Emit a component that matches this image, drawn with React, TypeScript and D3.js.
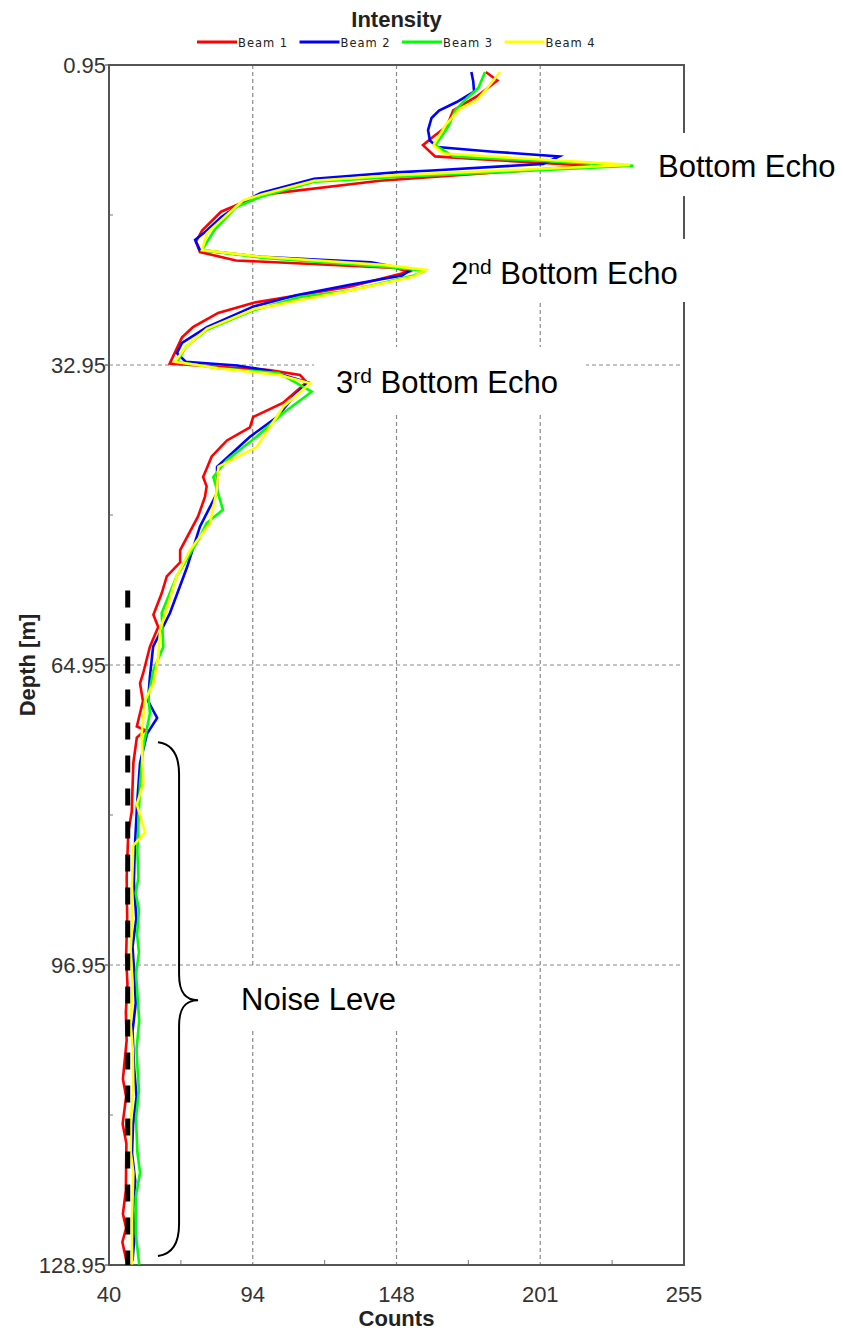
import React, { useEffect, useRef } from "react";
import * as d3 from "d3";

// beam profiles: [depth m, counts]
const beam1: [number, number][] = [
  [1.7, 180.9], [2.6, 185.2], [4.3, 177.5], [5.8, 168.7], [7.5, 166.3], [8.6, 161.2], [9.5, 157.4],
  [10.7, 161.9], [11.0, 178.7], [11.7, 219.9], [13.3, 141.3], [14.8, 96.8], [16.6, 81.9], [18.6, 74.8],
  [19.8, 72.5], [20.9, 74.0], [21.8, 87.5], [22.6, 147.3], [23.0, 152.0], [24.6, 130.0], [26.3, 94.1],
  [27.4, 80.8], [28.9, 71.4], [30.0, 67.3], [32.8, 62.7], [33.5, 100.0], [34.0, 111.4], [34.8, 113.9],
  [37.0, 105.0], [38.5, 93.9], [39.6, 92.7], [41.0, 84.1], [42.7, 78.4], [44.9, 75.2], [45.9, 76.5],
  [47.0, 75.9], [49.1, 73.3], [52.7, 66.6], [54.0, 66.6], [55.5, 61.6], [57.3, 59.7], [59.6, 56.6],
  [60.9, 58.4], [63.0, 55.3], [65.8, 52.8], [66.9, 51.6], [68.8, 52.7], [71.5, 50.4], [71.9, 53.5],
  [72.7, 50.4], [75.4, 49.1], [80.6, 48.5], [82.8, 47.2], [87.6, 46.6], [92.0, 46.8], [96.0, 46.4],
  [99.0, 46.9], [102.0, 46.3], [105.0, 46.6], [109.1, 45.2], [111.0, 46.4], [113.9, 45.1], [116.0, 46.5],
  [121.0, 46.3], [123.5, 45.2], [125.0, 46.4], [126.5, 45.0], [128.5, 46.5]
];
const beam2: [number, number][] = [
  [1.7, 175.5], [2.7, 176.2], [3.8, 176.5], [4.9, 170.0], [5.8, 163.4], [6.6, 160.6], [7.9, 159.3],
  [9.0, 160.0], [9.7, 162.8], [10.2, 183.6], [10.7, 208.3], [11.5, 202.3], [12.2, 160.8], [12.4, 147.3],
  [13.1, 116.7], [14.6, 96.8], [15.6, 90.0], [17.2, 81.9], [18.6, 76.6], [19.6, 72.2], [20.7, 74.0],
  [21.4, 96.8], [22.0, 138.0], [22.8, 152.8], [23.4, 149.6], [24.4, 130.1], [25.5, 110.0], [26.7, 94.1],
  [28.9, 76.6], [30.6, 67.3], [31.7, 65.4], [32.6, 68.7], [33.0, 87.9], [33.5, 99.0], [34.8, 114.4],
  [36.4, 108.8], [38.5, 102.8], [40.6, 92.7], [43.8, 80.4], [46.6, 80.4], [50.2, 74.0], [54.5, 69.2],
  [59.4, 62.8], [63.0, 56.5], [66.2, 55.3], [68.8, 54.6], [70.6, 58.0], [72.3, 54.2], [75.4, 51.6],
  [79.8, 50.5], [84.2, 49.7], [88.0, 49.3], [92.0, 50.2], [95.0, 48.8], [98.0, 49.5], [101.0, 50.0],
  [104.0, 48.8], [108.0, 49.4], [111.0, 50.3], [114.0, 49.0], [117.0, 48.6], [120.0, 49.8], [123.0, 49.0],
  [126.0, 49.5], [128.5, 48.8]
];
const beam3: [number, number][] = [
  [1.7, 180.6], [3.4, 178.1], [4.5, 173.8], [5.8, 169.4], [7.5, 166.9], [8.8, 163.8], [9.5, 161.9],
  [10.7, 168.8], [11.7, 236.1], [12.9, 147.3], [13.4, 116.7], [15.0, 96.8], [16.1, 87.5], [17.8, 81.9],
  [18.6, 79.3], [20.7, 74.8], [21.5, 96.8], [22.5, 143.6], [22.9, 158.2], [23.4, 154.0], [25.0, 130.1],
  [25.7, 111.4], [27.1, 94.1], [29.2, 76.6], [31.0, 68.8], [32.6, 65.4], [33.3, 80.8], [33.8, 103.4],
  [35.8, 115.8], [38.1, 105.0], [40.6, 95.2], [43.1, 84.0], [44.9, 79.0], [48.4, 82.6], [49.8, 76.5],
  [51.3, 74.0], [55.5, 65.3], [59.4, 59.7], [63.0, 60.3], [65.5, 56.6], [68.3, 54.7], [70.1, 55.3],
  [73.7, 52.8], [77.6, 51.6], [81.9, 51.0], [84.9, 50.6], [87.6, 51.0], [89.3, 50.0], [91.1, 51.2],
  [93.7, 50.5], [95.6, 51.2], [97.8, 50.1], [102.9, 51.3], [105.9, 50.3], [107.7, 50.6], [110.3, 51.2],
  [113.3, 50.1], [116.9, 50.6], [119.1, 51.6], [121.7, 50.0], [125.6, 50.0], [128.9, 51.3]
];
const beam4: [number, number][] = [
  [1.7, 186.2], [3.3, 181.8], [4.7, 177.5], [5.6, 171.3], [7.2, 166.3], [8.6, 163.2], [9.5, 161.3],
  [10.4, 165.0], [11.6, 234.8], [12.7, 147.3], [13.3, 116.7], [14.8, 96.8], [15.4, 90.1], [17.5, 81.9],
  [18.9, 76.6], [20.7, 74.8], [21.4, 96.8], [22.3, 143.6], [22.8, 158.4], [23.5, 154.0], [25.0, 130.1],
  [27.0, 94.1], [29.1, 76.6], [31.0, 68.8], [32.6, 64.7], [33.3, 80.8], [34.0, 103.4], [34.9, 115.2],
  [37.4, 105.2], [41.7, 95.2], [43.8, 80.9], [46.3, 80.3], [49.8, 77.8], [52.7, 70.3], [55.5, 65.3],
  [61.2, 59.1], [64.1, 58.4], [66.9, 56.6], [68.7, 53.5], [72.3, 52.2], [77.6, 52.8], [79.8, 50.4],
  [82.8, 53.5], [84.2, 49.1], [88.3, 48.6], [92.9, 48.6], [95.3, 48.1], [99.0, 48.8], [103.3, 48.1],
  [106.0, 48.9], [110.0, 49.1], [113.0, 48.3], [116.9, 48.1], [119.1, 49.1], [124.0, 48.6], [128.9, 48.6]
];

const beamNames = ["Beam 1", "Beam 2", "Beam 3", "Beam 4"];
const beamColors = ["#ff0000", "#0000ff", "#00ff00", "#ffff00"];
const beams = [beam1, beam2, beam3, beam4];

// axes
const xTickValues = [40, 93.75, 147.5, 201.25, 255];
const xTickLabels = ["40", "94", "148", "201", "255"];
const yTickValues = [0.95, 32.95, 64.95, 96.95, 128.95];
const yTickLabels = ["0.95", "32.95", "64.95", "96.95", "128.95"];

// noise floor marker (counts) and where it starts (depth)
const noiseLevel = 47;
const noiseFrom = 57;
// brace over the noise region: depth top, tip, bottom
const braceDepths = [73.2, 100.7, 128.0];

function App() {
  const ref = useRef<SVGSVGElement>(null);

  useEffect(() => {
    drawChart();
  }, []);

  const drawChart = () => {
    const svg = d3.select(ref.current);
    svg.selectAll("*").remove();

    const left = 109, right = 684, top = 65, bottom = 1265;
    const x = d3.scaleLinear().domain([40, 255]).range([left, right]);
    const y = d3.scaleLinear().domain([0.95, 128.95]).range([top, bottom]);
    const font = "'Liberation Sans', Arial, sans-serif";

    // grid
    svg.append("g").selectAll("line")
      .data(xTickValues.slice(1, -1))
      .enter().append("line")
      .attr("x1", d => x(d)).attr("x2", d => x(d))
      .attr("y1", top).attr("y2", bottom)
      .attr("stroke", "#8a8a8a").attr("stroke-width", 1.2).attr("stroke-dasharray", "4,3");
    svg.append("g").selectAll("line")
      .data(yTickValues.slice(1, -1))
      .enter().append("line")
      .attr("y1", d => y(d)).attr("y2", d => y(d))
      .attr("x1", left).attr("x2", right)
      .attr("stroke", "#8a8a8a").attr("stroke-width", 1.2).attr("stroke-dasharray", "4,3");

    // minor ticks (half way between labels)
    const xMinor = d3.pairs(xTickValues).map(p => (p[0] + p[1]) / 2);
    const yMinor = d3.pairs(yTickValues).map(p => (p[0] + p[1]) / 2);
    svg.append("g").selectAll("line").data(xMinor).enter().append("line")
      .attr("x1", d => x(d)).attr("x2", d => x(d))
      .attr("y1", bottom).attr("y2", bottom - 5)
      .attr("stroke", "#777").attr("stroke-width", 1);
    svg.append("g").selectAll("line").data(yMinor).enter().append("line")
      .attr("y1", d => y(d)).attr("y2", d => y(d))
      .attr("x1", left).attr("x2", left + 4)
      .attr("stroke", "#777").attr("stroke-width", 1);
    svg.append("g").selectAll("line").data(yTickValues).enter().append("line")
      .attr("y1", d => y(d)).attr("y2", d => y(d))
      .attr("x1", left - 4).attr("x2", left)
      .attr("stroke", "#555").attr("stroke-width", 1.2);

    // frame
    svg.append("rect")
      .attr("x", left).attr("y", top)
      .attr("width", right - left).attr("height", bottom - top)
      .attr("fill", "none").attr("stroke", "#555").attr("stroke-width", 2);

    // white label boxes that hide the grid behind the notes
    const boxes = [
      [645, 133, 198, 63],
      [432, 239, 258, 63],
      [314, 347, 272, 65],
      [215, 968, 206, 62]
    ];
    svg.append("g").selectAll("rect").data(boxes).enter().append("rect")
      .attr("x", d => d[0]).attr("y", d => d[1])
      .attr("width", d => d[2]).attr("height", d => d[3])
      .attr("fill", "#fff");

    // beams
    const line = d3.line<[number, number]>()
      .x(d => x(d[1]))
      .y(d => y(d[0]));
    beams.forEach((b, i) => {
      svg.append("path")
        .datum(b)
        .attr("d", line)
        .attr("fill", "none")
        .attr("stroke", beamColors[i])
        .attr("stroke-width", 2.6)
        .attr("stroke-linejoin", "miter");
    });

    // noise floor
    svg.append("line")
      .attr("x1", x(noiseLevel)).attr("x2", x(noiseLevel))
      .attr("y1", y(noiseFrom)).attr("y2", y(128.95))
      .attr("stroke", "#000").attr("stroke-width", 5).attr("stroke-dasharray", "17,16");

    // brace
    const bt = y(braceDepths[0]), bm = y(braceDepths[1]), bb = y(braceDepths[2]);
    const bx0 = x(58.3), bx1 = x(66.2), bx2 = x(73.3);
    const p = d3.path();
    p.moveTo(bx0, bt);
    p.bezierCurveTo(bx0 + 16, bt + 2, bx1, bt + 15, bx1, bt + 32);
    p.lineTo(bx1, bm - 26);
    p.bezierCurveTo(bx1, bm - 8, bx1 + 6, bm, bx2, bm);
    p.bezierCurveTo(bx1 + 6, bm, bx1, bm + 8, bx1, bm + 26);
    p.lineTo(bx1, bb - 32);
    p.bezierCurveTo(bx1, bb - 15, bx0 + 16, bb - 2, bx0, bb);
    svg.append("path").attr("d", p.toString())
      .attr("fill", "none").attr("stroke", "#000").attr("stroke-width", 2);

    // tick labels
    svg.append("g").selectAll("text").data(yTickValues).enter().append("text")
      .attr("x", left - 3).attr("y", d => y(d)).attr("dy", "0.36em")
      .attr("text-anchor", "end")
      .style("font-family", font).style("font-size", "22px").attr("fill", "#333")
      .text((d, i) => yTickLabels[i]);
    svg.append("g").selectAll("text").data(xTickValues).enter().append("text")
      .attr("x", d => x(d)).attr("y", 1302)
      .attr("text-anchor", "middle")
      .style("font-family", font).style("font-size", "22px").attr("fill", "#333")
      .text((d, i) => xTickLabels[i]);

    // axis titles
    svg.append("text")
      .attr("x", (left + right) / 2).attr("y", 1326)
      .attr("text-anchor", "middle")
      .style("font-family", font).style("font-size", "22px").style("font-weight", "bold")
      .attr("fill", "#222")
      .text("Counts");
    svg.append("text")
      .attr("transform", `translate(35,${(top + bottom) / 2}) rotate(-90)`)
      .attr("text-anchor", "middle")
      .style("font-family", font).style("font-size", "22px").style("font-weight", "bold")
      .attr("fill", "#222")
      .text("Depth [m]");

    // title + legend
    svg.append("text")
      .attr("x", (left + right) / 2).attr("y", 27)
      .attr("text-anchor", "middle")
      .style("font-family", font).style("font-size", "22px").style("font-weight", "bold")
      .attr("fill", "#222")
      .text("Intensity");
    const lg = svg.append("g");
    beamNames.forEach((n, i) => {
      const lx = 197 + i * 102.5;
      lg.append("line")
        .attr("x1", lx).attr("x2", lx + 40).attr("y1", 42).attr("y2", 42)
        .attr("stroke", beamColors[i]).attr("stroke-width", 3);
      lg.append("text")
        .attr("x", lx + 41).attr("y", 47)
        .style("font-family", "'DejaVu Sans', sans-serif").style("font-size", "11.5px")
        .style("letter-spacing", "1px").attr("fill", "#222")
        .text(n);
    });

    // notes
    const note = (tx: number, ty: number, lead: string, sup: string, rest: string) => {
      const t = svg.append("text")
        .attr("x", tx).attr("y", ty)
        .style("font-family", font).style("font-size", "31px").attr("fill", "#000");
      if (lead) t.append("tspan").text(lead);
      if (sup) t.append("tspan").attr("dy", -10).style("font-size", "21px").text(sup);
      t.append("tspan").attr("dy", sup ? 10 : 0).text(rest);
    };
    note(658, 177, "", "", "Bottom Echo");
    note(451, 284, "2", "nd", " Bottom Echo");
    note(336, 393, "3", "rd", " Bottom Echo");
    note(241, 1010, "", "", "Noise Leve");
  };

  return (
    <div style={{ position: "absolute", left: 0, top: 0 }}>
      <svg ref={ref} width={843} height={1331} style={{ display: "block", background: "#fff" }}></svg>
    </div>
  );
}

export default App;
